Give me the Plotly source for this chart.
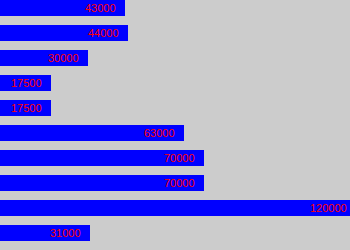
import plotly.graph_objects as go

labels = ["43000", "44000", "30000", "17500", "17500", "63000", "70000", "70000", "120000", "31000"]
values = [43000, 44000, 30000, 17500, 17500, 63000, 70000, 70000, 120000, 31000]
positions = list(range(len(values)))

fig = go.Figure()
fig.add_trace(go.Bar(
    x=values, y=positions, orientation="h",
    marker=dict(color="#0000ff", line=dict(width=0)),
    width=0.64, hoverinfo="skip",
))

annotations = []
for v, p, lab in zip(values, positions, labels):
    annotations.append(dict(
        x=v, y=p, xref="x", yref="y", text=lab, showarrow=False,
        xanchor="left", yanchor="middle", xshift=-42,
        font=dict(family="Liberation Sans", size=11, color="#ff0000"),
    ))

fig.update_layout(
    width=350, height=250,
    margin=dict(l=0, r=0, t=0, b=0, pad=0),
    paper_bgcolor="#cccccc", plot_bgcolor="#cccccc",
    showlegend=False,
    bargap=0,
    annotations=annotations,
    xaxis=dict(range=[0, 120000], visible=False, showgrid=False, zeroline=False, fixedrange=True),
    yaxis=dict(range=[9.68, -0.32], visible=False, showgrid=False, zeroline=False, fixedrange=True),
)
fig.write_html("out.html", config={"displayModeBar": False})
